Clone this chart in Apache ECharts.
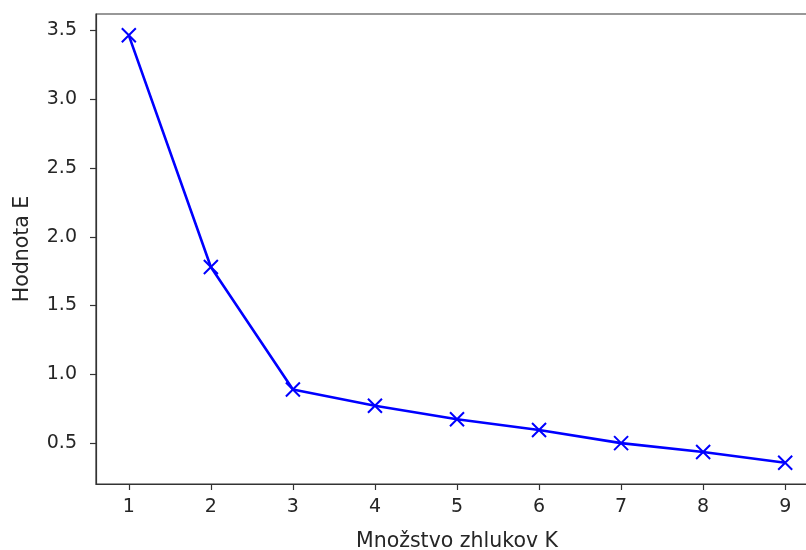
<!DOCTYPE html>
<html>
<head>
<meta charset="utf-8">
<script src="https://cdn.jsdelivr.net/npm/echarts@6/dist/echarts.min.js"></script>
<style>html,body{margin:0;padding:0;background:#fff;}#c{width:806px;height:550px;}</style>
</head>
<body>
<div id="c"></div>
<script>
const kValues = [1, 2, 3, 4, 5, 6, 7, 8, 9];
const eValues = [3.464, 1.78, 0.89, 0.772, 0.674, 0.596, 0.50, 0.435, 0.358];
const xTicks = [1, 2, 3, 4, 5, 6, 7, 8, 9];
const yTicks = [0.5, 1.0, 1.5, 2.0, 2.5, 3.0, 3.5];

const textColor = '#262626';
const spineColor = '#333333';
const font = 'DejaVu Sans';

const chart = echarts.init(document.getElementById('c'), null, {renderer: 'canvas'});
chart.setOption({
  animation: false,
  backgroundColor: '#ffffff',
  grid: {left: 96, width: 722, top: 14, height: 470, show: true, borderColor: spineColor, borderWidth: 1.2, containLabel: false, outerBoundsMode: 'none'},
  xAxis: {
    type: 'value', min: 0.6, max: 9.4,
    name: 'Množstvo zhlukov K', nameLocation: 'middle', nameGap: 47,
    nameTextStyle: {color: textColor, fontFamily: font, fontSize: 20.5},
    axisLine: {show: true, lineStyle: {color: spineColor, width: 1.2}},
    axisTick: {show: true, length: 6, lineStyle: {color: spineColor, width: 1.2}, customValues: xTicks},
    axisLabel: {color: textColor, fontFamily: font, fontSize: 19, margin: 14, customValues: xTicks, formatter: v => String(v)},
    splitLine: {show: false}
  },
  yAxis: {
    type: 'value', min: 0.203, max: 3.619,
    name: 'Hodnota E', nameLocation: 'middle', nameGap: 63, nameRotate: 90,
    nameTextStyle: {color: textColor, fontFamily: font, fontSize: 20.5},
    axisLine: {show: true, lineStyle: {color: spineColor, width: 1.2}},
    axisTick: {show: true, length: 6, lineStyle: {color: spineColor, width: 1.2}, customValues: yTicks},
    axisLabel: {color: textColor, fontFamily: font, fontSize: 19, margin: 19, customValues: yTicks, formatter: v => v.toFixed(1)},
    splitLine: {show: false}
  },
  series: [{
    type: 'line',
    data: kValues.map((k, i) => [k, eValues[i]]),
    lineStyle: {color: '#0000ff', width: 2.6},
    symbol: 'path://M0,0L10,10M10,0L0,10',
    symbolSize: 14,
    itemStyle: {color: 'none', borderColor: '#0000ff', borderWidth: 2},
    showSymbol: true,
    clip: false
  }]
});
</script>
</body>
</html>
